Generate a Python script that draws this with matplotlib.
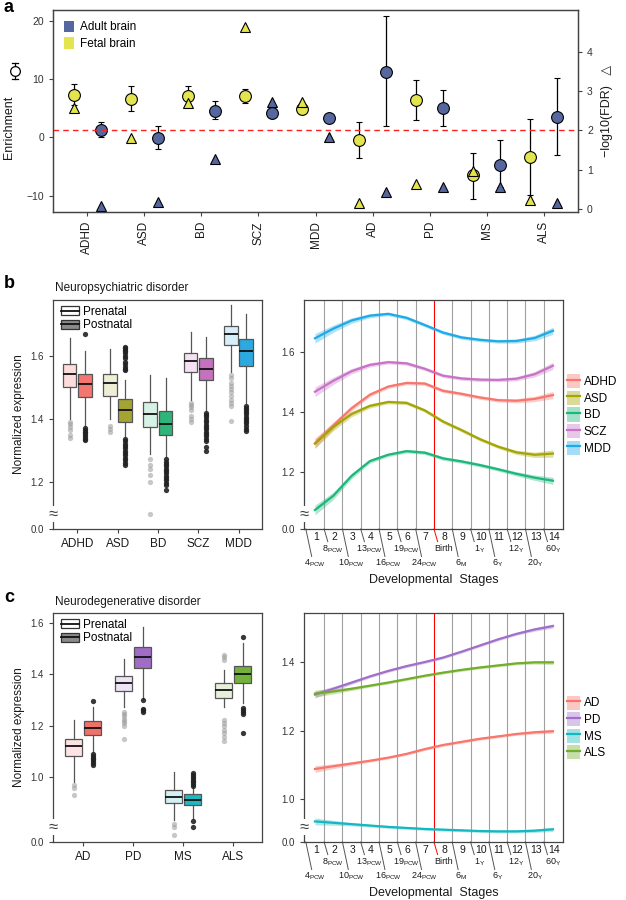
import numpy as np
import matplotlib
matplotlib.use("Agg")
import matplotlib.pyplot as plt
from matplotlib.lines import Line2D
from matplotlib.patches import Patch, Rectangle
from matplotlib.legend_handler import HandlerBase
from matplotlib.transforms import blended_transform_factory

plt.rcParams['font.family'] = ['Liberation Sans', 'DejaVu Sans']
plt.rcParams['mathtext.fontset'] = 'custom'
plt.rcParams['mathtext.rm'] = 'Liberation Sans'

# ---- panel a: enrichment ----
DIS_A = ["ADHD", "ASD", "BD", "SCZ", "MDD", "AD", "PD", "MS", "ALS"]
fetal_enrich = [7.3, 6.6, 7.2, 7.1, 4.9, -0.5, 6.5, -6.5, -3.4]
fetal_lo = [5.5, 4.6, 5.7, 6.0, 4.1, -3.5, 3.0, -10.6, -9.9]
fetal_hi = [9.2, 8.8, 8.9, 8.4, 5.7, 2.6, 9.95, -2.7, 3.2]
fetal_fdr = [2.57, 1.80, 2.71, 4.64, 2.73, 0.16, 0.64, 0.97, 0.23]
adult_enrich = [1.3, -0.1, 4.6, 4.2, 3.4, 11.2, 5.0, -4.7, 3.6]
adult_lo = [0.0, -1.9, 3.1, 3.4, 2.9, 1.9, 1.9, -8.5, -3.0]
adult_hi = [2.6, 1.9, 6.2, 5.2, 3.9, 20.8, 8.1, -0.5, 10.2]
adult_fdr = [0.08, 0.17, 1.27, 2.73, 1.82, 0.44, 0.55, 0.57, 0.14]
FDR_CUT = 2

# ---- panel b: neuropsychiatric boxes ----
DIS_B = ["ADHD", "ASD", "BD", "SCZ", "MDD"]
b_pre_q1 = [1.503, 1.474, 1.374, 1.548, 1.634]
b_pre_med = [1.542, 1.513, 1.416, 1.585, 1.670]
b_pre_q3 = [1.574, 1.542, 1.453, 1.611, 1.696]
b_pre_lo = [1.400, 1.400, 1.290, 1.460, 1.550]
b_pre_hi = [1.656, 1.622, 1.540, 1.677, 1.762]
b_pre_fliers = [[1.392, 1.384, 1.375, 1.366, 1.35, 1.34],
                [1.378, 1.37, 1.36],
                [1.272, 1.255, 1.24, 1.222, 1.20, 1.10],
                [1.452, 1.445, 1.438, 1.43, 1.41, 1.40, 1.39],
                [1.54, 1.53, 1.515, 1.505, 1.495, 1.485, 1.472, 1.46, 1.45, 1.44, 1.395]]
b_post_q1 = [1.471, 1.391, 1.350, 1.524, 1.568]
b_post_med = [1.510, 1.429, 1.384, 1.560, 1.616]
b_post_q3 = [1.543, 1.463, 1.426, 1.593, 1.653]
b_post_lo = [1.378, 1.345, 1.280, 1.425, 1.450]
b_post_hi = [1.616, 1.524, 1.531, 1.659, 1.732]
b_post_fliers = [[1.669, 1.372, 1.366, 1.36, 1.355, 1.35, 1.344, 1.338, 1.332],
                 [1.63, 1.625, 1.62, 1.615, 1.61, 1.60, 1.595, 1.58, 1.575, 1.565, 1.56, 1.555,
                  1.338, 1.33, 1.322, 1.315, 1.307, 1.30, 1.292, 1.285, 1.277, 1.27, 1.262, 1.255],
                 [1.272, 1.265, 1.258, 1.25, 1.243, 1.235, 1.228, 1.22, 1.212, 1.205, 1.197, 1.19, 1.175],
                 [1.42, 1.412, 1.405, 1.397, 1.39, 1.382, 1.375, 1.367, 1.36, 1.352, 1.345, 1.337, 1.33, 1.31, 1.30],
                 [1.443, 1.436, 1.43, 1.422, 1.415, 1.408, 1.40, 1.393, 1.386, 1.378, 1.37, 1.363]]
b_pre_fill = ["#FCDDDC", "#EEEED6", "#D6F2E6", "#F5E1F3", "#D6EEF8"]
b_post_fill = ["#F37770", "#A3A431", "#2DB57A", "#C472BE", "#2BA9E0"]

# ---- panel c: neurodegenerative boxes ----
DIS_C = ["AD", "PD", "MS", "ALS"]
c_pre_q1 = [1.081, 1.336, 0.897, 1.306]
c_pre_med = [1.122, 1.367, 0.923, 1.339]
c_pre_q3 = [1.150, 1.393, 0.949, 1.365]
c_pre_lo = [0.981, 1.274, 0.832, 1.274]
c_pre_hi = [1.222, 1.458, 1.020, 1.418]
c_pre_fliers = [[0.968, 0.956, 0.929],
                [1.254, 1.245, 1.236, 1.227, 1.218, 1.209, 1.20, 1.15],
                [0.819, 0.806, 0.773],
                [1.475, 1.466, 1.456, 1.222, 1.21, 1.198, 1.183, 1.17, 1.155, 1.14]]
c_post_q1 = [1.163, 1.423, 0.890, 1.367]
c_post_med = [1.192, 1.469, 0.912, 1.401]
c_post_q3 = [1.218, 1.505, 0.933, 1.434]
c_post_lo = [1.098, 1.305, 0.838, 1.287]
c_post_hi = [1.274, 1.586, 0.980, 1.521]
c_post_fliers = [[1.297, 1.09, 1.083, 1.076, 1.069, 1.062, 1.055, 1.048],
                 [1.302, 1.267, 1.26, 1.254],
                 [1.014, 1.007, 1.0, 0.993, 0.986, 0.979, 0.972, 0.965, 0.829, 0.806],
                 [1.547, 1.268, 1.26, 1.252, 1.245, 1.17]]
c_pre_fill = ["#FDE3E2", "#EEE4F5", "#D4F0F2", "#E7F1D9"]
c_post_fill = ["#F0716A", "#9F6DC6", "#1FB8BE", "#73B13B"]

# ---- developmental trajectories ----
STAGES = list(range(1, 15))
STAGE_AGES = ["4$_{\\mathrm{PCW}}$", "8$_{\\mathrm{PCW}}$", "10$_{\\mathrm{PCW}}$", "13$_{\\mathrm{PCW}}$",
              "16$_{\\mathrm{PCW}}$", "19$_{\\mathrm{PCW}}$", "24$_{\\mathrm{PCW}}$", "Birth",
              "6$_{\\mathrm{M}}$", "1$_{\\mathrm{Y}}$", "6$_{\\mathrm{Y}}$", "12$_{\\mathrm{Y}}$",
              "20$_{\\mathrm{Y}}$", "60$_{\\mathrm{Y}}$"]
BIRTH = 7.5
traj_b = {
    "ADHD": [1.296, 1.355, 1.412, 1.457, 1.484, 1.496, 1.494, 1.470, 1.460, 1.448, 1.439, 1.437, 1.443, 1.456],
    "ASD": [1.295, 1.350, 1.393, 1.420, 1.433, 1.430, 1.405, 1.368, 1.340, 1.310, 1.285, 1.266, 1.258, 1.262],
    "BD": [1.075, 1.122, 1.188, 1.237, 1.258, 1.270, 1.265, 1.246, 1.236, 1.224, 1.210, 1.195, 1.182, 1.172],
    "SCZ": [1.467, 1.503, 1.535, 1.556, 1.565, 1.561, 1.543, 1.520, 1.511, 1.507, 1.506, 1.510, 1.525, 1.553],
    "MDD": [1.644, 1.676, 1.703, 1.719, 1.725, 1.712, 1.688, 1.663, 1.647, 1.639, 1.634, 1.635, 1.645, 1.669],
}
half_b = [0.016, 0.012, 0.009, 0.007, 0.006, 0.006, 0.006, 0.006, 0.006, 0.006, 0.006, 0.007, 0.009, 0.012]
col_b = ["#F8766D", "#A3A500", "#1DB67B", "#C873C6", "#1DAAE6"]
traj_c = {
    "AD": [1.088, 1.096, 1.104, 1.112, 1.121, 1.132, 1.146, 1.158, 1.167, 1.176, 1.183, 1.190, 1.195, 1.198],
    "PD": [1.305, 1.322, 1.340, 1.358, 1.374, 1.388, 1.400, 1.413, 1.430, 1.448, 1.466, 1.482, 1.495, 1.505],
    "MS": [0.935, 0.931, 0.927, 0.923, 0.919, 0.916, 0.913, 0.911, 0.909, 0.907, 0.906, 0.906, 0.908, 0.912],
    "ALS": [1.308, 1.314, 1.322, 1.331, 1.340, 1.350, 1.360, 1.369, 1.377, 1.384, 1.390, 1.396, 1.399, 1.399],
}
half_c = [0.010, 0.007, 0.005, 0.004, 0.004, 0.004, 0.004, 0.004, 0.004, 0.004, 0.004, 0.004, 0.005, 0.006]
col_c = ["#F8766D", "#A070C8", "#14B8C0", "#72AD2C"]

ADULT = "#55679E"
FETAL = "#E4E54E"
TXT = "#1a1a1a"
W, H = 626, 900


def box(l, t, r, b):
    return [l / W, 1 - b / H, (r - l) / W, (b - t) / H]


def style(ax, size=7):
    for s in ax.spines.values():
        s.set_color("#444444"); s.set_linewidth(0.9)
    ax.tick_params(labelsize=size, colors="#444444", labelcolor="#333333", length=3, width=0.8)


def axis_break(ax):
    ax.text(0, 0.065, "\u2248", transform=ax.transAxes, ha="center", va="center",
            fontsize=12, color="#444444", zorder=5,
            bbox=dict(facecolor="white", edgecolor="none", pad=0.2))


class BoxIcon(HandlerBase):
    def create_artists(self, legend, orig, xd, yd, w, h, fontsize, trans):
        r = Rectangle((-xd, -yd), w, h, facecolor=orig.get_facecolor(),
                      edgecolor="#333333", lw=0.9, transform=trans)
        l = Line2D([-xd, -xd + w], [-yd + h / 2] * 2, color="#111111", lw=1.3, transform=trans)
        return [r, l]


def draw_boxes(ax, cats, pre, post, pre_fill, post_fill, ylim, ticks, labels):
    pos = np.arange(1, len(cats) + 1)
    for stats, fills, off, fc, fa in [(pre, pre_fill, -0.19, "#9a9a9a", 0.55),
                                      (post, post_fill, 0.19, "#222222", 0.9)]:
        q1, med, q3, lo, hi, fl = stats
        bs = [dict(q1=q1[i], med=med[i], q3=q3[i], whislo=lo[i], whishi=hi[i], fliers=fl[i])
              for i in range(len(cats))]
        bp = ax.bxp(bs, positions=pos + off, widths=0.34, patch_artist=True, showcaps=False,
                    boxprops=dict(edgecolor="#555555", lw=0.9),
                    whiskerprops=dict(color="#555555", lw=0.9),
                    medianprops=dict(color="#111111", lw=1.3),
                    flierprops=dict(marker="o", markerfacecolor=fc, markeredgecolor="none",
                                    markersize=3.8, alpha=fa))
        for p, c in zip(bp["boxes"], fills):
            p.set_facecolor(c)
    ax.set_xlim(0.4, len(cats) + 0.58)
    ax.set_ylim(*ylim)
    ax.set_xticks(pos)
    ax.set_xticklabels(cats, fontsize=8.5, color=TXT)
    ax.set_yticks(ticks)
    ax.set_yticklabels(labels)
    ax.set_ylabel("Normalized expression", fontsize=8.5, color=TXT, labelpad=4)
    handles = [Patch(facecolor="white"), Patch(facecolor="#8a8a8a")]
    ax.legend(handles, ["Prenatal", "Postnatal"], handler_map={Patch: BoxIcon()},
              loc="upper left", bbox_to_anchor=(0.0, 1.01), frameon=False, fontsize=8.5,
              handlelength=1.5, handleheight=0.8, handletextpad=0.3, labelspacing=0.12,
              borderaxespad=0.3)
    axis_break(ax)


def draw_traj(ax, traj, cols, half, ylim, ticks, labels):
    tr = blended_transform_factory(ax.transData, ax.transAxes)
    for b in np.arange(1.5, 14, 1.0):
        ax.axvline(b, color="red" if b == BIRTH else "#a0a0a0", lw=0.8, zorder=0)
    hw = np.array(half)
    for (name, vals), c in zip(traj.items(), cols):
        v = np.array(vals)
        ax.fill_between(STAGES, v - hw, v + hw, color=c, alpha=0.35, lw=0)
        ax.plot(STAGES, v, color=c, lw=1.6)
    ax.set_xlim(0.4, 14.55)
    ax.set_ylim(*ylim)
    ax.set_xticks([])
    ax.set_yticks(ticks)
    ax.set_yticklabels(labels)
    for k, lab in zip(STAGES, STAGE_AGES):
        c = "red" if k - 0.5 == BIRTH else "#555555"
        if k % 2:
            ax.plot([k - 0.5, k - 0.18], [0, -0.12], color=c, lw=0.7, transform=tr, clip_on=False)
            ax.text(k, -0.125, lab, transform=tr, ha="center", va="top", fontsize=6.5, color=TXT)
        else:
            ax.plot([k - 0.5, k - 0.3], [0, -0.055], color=c, lw=0.7, transform=tr, clip_on=False)
            ax.text(k, -0.065, lab, transform=tr, ha="center", va="top", fontsize=6.5, color=TXT)
        ax.text(k + 0.05, -0.012, str(k), transform=tr, ha="center", va="top", fontsize=7.5, color=TXT)
    ax.text(0.5, -0.195, "Developmental  Stages", transform=ax.transAxes, ha="center", va="top",
            fontsize=9, color=TXT)
    handles = [(Patch(facecolor=c, alpha=0.4, edgecolor="none"), Line2D([], [], color=c, lw=1.6))
               for c in cols]
    ax.legend(handles, list(traj.keys()), loc="center left", bbox_to_anchor=(1.0, 0.5),
              frameon=False, fontsize=8.5, handlelength=1.1, handleheight=1.45,
              handletextpad=0.35, labelspacing=0.22, borderaxespad=0.2, borderpad=0.1)
    axis_break(ax)


fig = plt.figure(figsize=(6.26, 9.0), dpi=100)

# panel a
axa = fig.add_axes(box(53, 10, 578, 212))
style(axa, 7.5)
xs = np.arange(1, len(DIS_A) + 1)
for vals, lo, hi, col, off in [(fetal_enrich, fetal_lo, fetal_hi, FETAL, -0.235),
                               (adult_enrich, adult_lo, adult_hi, ADULT, 0.235)]:
    v = np.array(vals)
    axa.errorbar(xs + off, v, yerr=[v - np.array(lo), np.array(hi) - v], fmt="o", mfc=col,
                 mec="black", mew=0.8, ms=8.5, ecolor="black", elinewidth=0.9, capsize=2.5,
                 capthick=0.9, zorder=3)
axa.set_xlim(0.4, 9.6)
axa.set_ylim(-12.8, 21.9)
axa.set_yticks([-10, 0, 10, 20])
axa.set_xticks(xs)
axa.set_xticklabels(DIS_A, rotation=90, fontsize=8.5, color=TXT)
axa.set_ylabel("Enrichment", fontsize=9, color=TXT)
axa.yaxis.set_label_coords(-0.072, 0.42)
axa.legend([Patch(facecolor=ADULT, edgecolor="none"), Patch(facecolor=FETAL, edgecolor="none")],
           ["Adult brain", "Fetal brain"], loc="upper left", frameon=False, fontsize=8.5,
           handlelength=0.9, handleheight=1.1, handletextpad=0.5, labelspacing=0.35)
axr = axa.twinx()
style(axr, 7.5)
axr.plot(xs - 0.235, fetal_fdr, "^", mfc=FETAL, mec="black", mew=0.8, ms=6.5, ls="none")
axr.plot(xs + 0.235, adult_fdr, "^", mfc=ADULT, mec="black", mew=0.8, ms=6.5, ls="none")
axr.axhline(FDR_CUT, color="#ff2020", ls=(0, (4, 3)), lw=1.0, zorder=0)
axr.set_ylim(-0.08, 5.07)
axr.set_yticks([0, 1, 2, 3, 4])
axr.set_ylabel("\u2212log10(FDR)   \u25B3", fontsize=9, color=TXT, labelpad=6)
# circle-with-errorbar icon next to the Enrichment label
fx, fy = 15 / W, 1 - 71 / H
fig.add_artist(Line2D([fx, fx], [fy - 8 / H, fy + 8 / H], color="black", lw=0.9))
for dy in (-8, 8):
    fig.add_artist(Line2D([fx - 3 / W, fx + 3 / W], [fy + dy / H] * 2, color="black", lw=0.9))
fig.add_artist(Line2D([fx], [fy], marker="o", ms=7, mfc="white", mec="black", mew=0.9))

# panel b
axbl = fig.add_axes(box(53, 300, 262, 529))
style(axbl)
draw_boxes(axbl, DIS_B,
           (b_pre_q1, b_pre_med, b_pre_q3, b_pre_lo, b_pre_hi, b_pre_fliers),
           (b_post_q1, b_post_med, b_post_q3, b_post_lo, b_post_hi, b_post_fliers),
           b_pre_fill, b_post_fill, (1.051, 1.778), [1.051, 1.2, 1.4, 1.6],
           ["0.0", "1.2", "1.4", "1.6"])
axbr = fig.add_axes(box(304, 300, 563, 529))
style(axbr)
draw_traj(axbr, traj_b, col_b, half_b, (1.012, 1.771), [1.012, 1.2, 1.4, 1.6],
          ["0.0", "1.2", "1.4", "1.6"])

# panel c
axcl = fig.add_axes(box(53, 613, 262, 842))
style(axcl)
draw_boxes(axcl, DIS_C,
           (c_pre_q1, c_pre_med, c_pre_q3, c_pre_lo, c_pre_hi, c_pre_fliers),
           (c_post_q1, c_post_med, c_post_q3, c_post_lo, c_post_hi, c_post_fliers),
           c_pre_fill, c_post_fill, (0.747, 1.639), [0.747, 1.0, 1.2, 1.4, 1.6],
           ["0.0", "1.0", "1.2", "1.4", "1.6"])
axcr = fig.add_axes(box(304, 613, 563, 842))
style(axcr)
draw_traj(axcr, traj_c, col_c, half_c, (0.875, 1.543), [0.875, 1.0, 1.2, 1.4],
          ["0.0", "1.0", "1.2", "1.4"])

# panel letters and titles
for letter, y in [("a", 8), ("b", 283), ("c", 598)]:
    fig.text(4 / W, 1 - y / H, letter, fontsize=13, fontweight="bold", va="center", color="black")
fig.text(55 / W, 1 - 288 / H, "Neuropsychiatric disorder", fontsize=8.5, va="center", color=TXT)
fig.text(55 / W, 1 - 602 / H, "Neurodegenerative disorder", fontsize=8.5, va="center", color=TXT)

fig.savefig("out.png", dpi=100)
